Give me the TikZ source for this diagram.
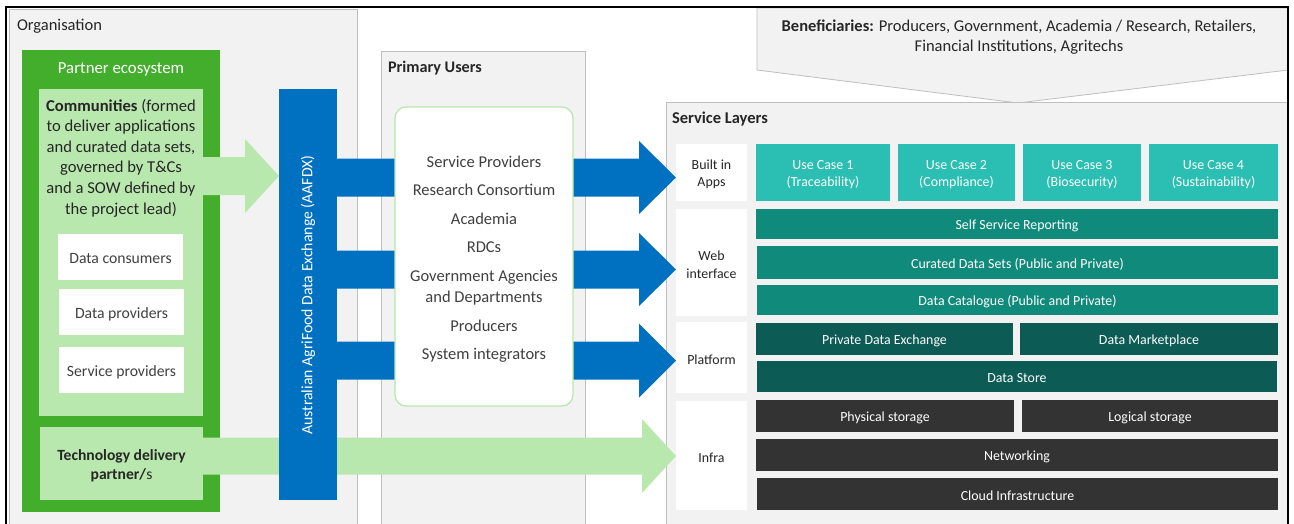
\documentclass[tikz,border=0pt]{standalone}
\usepackage{fontspec}
\setmainfont{Carlito}
\usetikzlibrary{calc}
\definecolor{panelgray}{HTML}{F2F2F2}
\definecolor{panelline}{HTML}{BFBFBF}
\definecolor{pgreen}{HTML}{43AE2C}
\definecolor{lgreen}{HTML}{B9E8AE}
\definecolor{aablue}{HTML}{0070C0}
\definecolor{tealA}{HTML}{2BBFB3}
\definecolor{tealB}{HTML}{108A7B}
\definecolor{tealC}{HTML}{0C5B55}
\definecolor{infgray}{HTML}{333333}
\definecolor{txtgray}{HTML}{404040}
\definecolor{txtdark}{HTML}{262626}

% [style]{name}{x1}{y1}{x2}{y2}{text}
\newcommand\boxat[7][]{%
  \pgfmathsetmacro\bw{#5-#3}\pgfmathsetmacro\bh{#6-#4}%
  \pgfmathsetmacro\bx{(#3+#5)/2}\pgfmathsetmacro\by{(#4+#6)/2}%
  \node[#1, minimum width=\bw pt, minimum height=\bh pt] (#2) at (\bx,\by) {};
  \node[#1, fill=none, draw=none, minimum width=0pt, minimum height=0pt, yshift=-2pt] (#2-text) at (#2.center) {#7};}

% {colour}{start}{end}{shaft half}{head half}{head length}
\newcommand\blockarrow[6]{%
  \fill[#1] let \p1=(#2), \p2=(#3) in
  (\x1,\y1+#4pt) -- (\x2-#6pt,\y1+#4pt) -- (\x2-#6pt,\y1+#5pt) -- (\x2,\y1)
  -- (\x2-#6pt,\y1-#5pt) -- (\x2-#6pt,\y1-#4pt) -- (\x1,\y1-#4pt) -- cycle;}

\tikzset{
  every node/.style={inner sep=0pt, outer sep=0pt},
  panel/.style={fill=panelgray, draw=panelline, line width=0.8pt},
  title/.style={anchor=west, text=txtdark, font=\fontsize{16.5}{19}\selectfont},
  wbox/.style={fill=white, text=txtgray, font=\fontsize{15.7}{18}\selectfont},
  lgbox/.style={fill=lgreen},
  lab/.style={fill=white, text=txtdark, align=center, font=\fontsize{13.9}{17.5}\selectfont},
  layer/.style={text=white, align=center, font=\fontsize{13.9}{17}\selectfont},
}

\begin{document}
\begin{tikzpicture}[x=1pt,y=-1pt]
\useasboundingbox (0,0) rectangle (1294,523);
\fill[white] (0,0) rectangle (1294,523);

% panels
\boxat[panel]{org}{9}{9}{357}{530}{}
\node[title] (orgt) at (17,26.5) {Organisation};
\boxat[panel]{pu}{381}{51}{585}{530}{}
\node[title, font=\fontsize{16.2}{19}\selectfont] (put) at (388,68.5) {\textbf{Primary Users}};

% beneficiaries callout
\filldraw[fill=panelgray, draw=panelline, line width=0.8pt]
  (757,8) -- (1288,8) -- (1288,70) -- (1018,103) -- (757,70) -- cycle;
\node[align=center, text=txtdark, font=\fontsize{16.5}{20}\selectfont] (ben) at (1019,37.5)
  {\textbf{Beneficiaries:} Producers, Government, Academia / Research, Retailers,\\Financial Institutions, Agritechs};

\boxat[panel]{sl}{666}{102}{1288}{530}{}
\node[title] (slt) at (672,119.5) {\textbf{Service Layers}};

% partner ecosystem
\boxat[fill=pgreen]{partner}{22}{50}{220}{512}{}
\node[text=white, font=\fontsize{16.8}{19}\selectfont] (partnert) at (121,69) {Partner ecosystem};
\boxat[lgbox]{comm}{39}{89}{203}{416}{}
\node[align=center, text=txtdark, font=\fontsize{16.6}{20.6}\selectfont] (commt) at (121,158)
  {\textbf{Communities} (formed\\to deliver applications\\and curated data sets,\\governed by T\&Cs\\and a SOW defined by\\the project lead)};
\boxat[wbox]{dcons}{58}{234}{183}{280}{Data consumers}
\boxat[wbox]{dprov}{59}{289}{184}{335}{Data providers}
\boxat[wbox]{sprov}{59}{347}{184}{393}{Service providers}
\boxat[lgbox, align=center, text=txtdark, font=\fontsize{15.6}{19}\selectfont]{tech}{40}{427}{203}{500}{\textbf{Technology delivery}\\\textbf{partner/}s}

% service layer labels
\boxat[lab]{apps}{676}{144}{747}{201}{Built in\\Apps}
\boxat[lab]{web}{676}{209}{747}{316}{Web\\interface}
\boxat[lab]{plat}{676}{322}{747}{393}{Platform}
\boxat[lab]{infra}{676}{401}{747}{510}{Infra}

% arrows
\coordinate (g1s) at (comm.east |- 0,176);
\coordinate (g1e) at (279,176);
\blockarrow{lgreen}{g1s}{g1e}{19}{37}{34}
\coordinate (g2s) at (tech.east |- 0,456);
\coordinate (g2e) at (infra.west |- 0,456);
\blockarrow{lgreen}{g2s}{g2e}{18.5}{37}{34}

\coordinate (b1s) at (330,177.5);
\coordinate (b1e) at (apps.west |- 0,177.5);
\blockarrow{aablue}{b1s}{b1e}{19}{36.5}{37}
\coordinate (b2s) at (330,269.5);
\coordinate (b2e) at (web.west |- 0,269.5);
\blockarrow{aablue}{b2s}{b2e}{19}{36.5}{37}
\coordinate (b3s) at (330,360.5);
\coordinate (b3e) at (plat.west |- 0,360.5);
\blockarrow{aablue}{b3s}{b3e}{19}{37}{37}

% AAFDX bar
\boxat[fill=aablue]{aafdx}{279}{89}{337}{500}{}
\node[rotate=90, text=white, font=\fontsize{15.8}{18}\selectfont] (aafdxt) at (308,295)
  {Australian AgriFood Data Exchange (AAFDX)};

% primary users box
\boxat[fill=white, draw=lgreen, line width=1.3pt, rounded corners=11pt]{users}{395}{107}{573}{406}{}
\node[align=center, text=txtgray, font=\fontsize{16.5}{21.5}\selectfont] (userst) at (484,259)
  {Service Providers\\[7pt]Research Consortium\\[7pt]Academia\\[7pt]RDCs\\[7pt]Government Agencies\\and Departments\\[7pt]Producers\\[7pt]System integrators};

% built in apps
\boxat[layer, fill=tealA]{uc1}{756}{144}{890}{201}{Use Case 1\\(Traceability)}
\boxat[layer, fill=tealA]{uc2}{898}{144}{1015}{201}{Use Case 2\\(Compliance)}
\boxat[layer, fill=tealA]{uc3}{1023}{144}{1141}{201}{Use Case 3\\(Biosecurity)}
\boxat[layer, fill=tealA]{uc4}{1149}{144}{1278}{201}{Use Case 4\\(Sustainability)}

% web interface
\boxat[layer, fill=tealB]{ssr}{756}{209}{1278}{239}{Self Service Reporting}
\boxat[layer, fill=tealB]{cds}{757}{246}{1278}{279}{Curated Data Sets (Public and Private)}
\boxat[layer, fill=tealB]{dcat}{757}{285}{1278}{315}{Data Catalogue (Public and Private)}

% platform
\boxat[layer, fill=tealC]{pde}{756}{323}{1013}{355}{Private Data Exchange}
\boxat[layer, fill=tealC]{dm}{1020}{323}{1278}{355}{Data Marketplace}
\boxat[layer, fill=tealC]{ds}{757}{361}{1277}{392}{Data Store}

% infra
\boxat[layer, fill=infgray]{ps}{756}{400}{1014}{432}{Physical storage}
\boxat[layer, fill=infgray]{ls}{1022}{400}{1278}{432}{Logical storage}
\boxat[layer, fill=infgray]{net}{756}{439}{1278}{471}{Networking}
\boxat[layer, fill=infgray]{cloud}{757}{478}{1278}{510}{Cloud Infrastructure}

% outer frame
\draw[line width=1.6pt] (6,7) rectangle (1288,535);
\end{tikzpicture}
\end{document}
